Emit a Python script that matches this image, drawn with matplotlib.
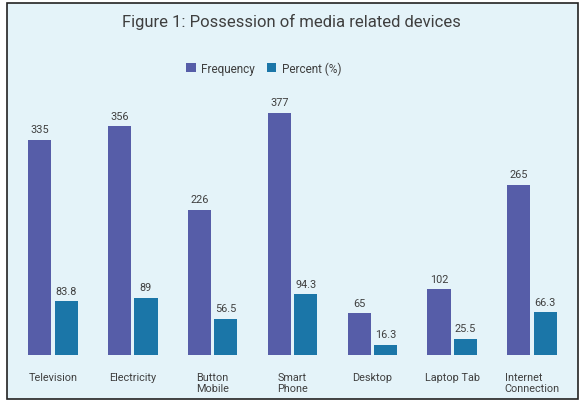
import matplotlib
matplotlib.use("Agg")
import matplotlib.pyplot as plt
import numpy as np
from matplotlib.patches import Rectangle

categories = ["Television", "Electricity", "Button\nMobile", "Smart\nPhone",
              "Desktop", "Laptop Tab", "Internet\nConnection"]
frequency = [335, 356, 226, 377, 65, 102, 265]
percent = [83.8, 89, 56.5, 94.3, 16.3, 25.5, 66.3]
freq_labels = ["335", "356", "226", "377", "65", "102", "265"]
pct_labels = ["83.8", "89", "56.5", "94.3", "16.3", "25.5", "66.3"]

colors = {
    "bg": "#e4f3f9",
    "freq": "#565da8",
    "pct": "#1b76a8",
    "text": "#3f3f3f",
}

plt.rcParams["font.family"] = ["Roboto", "DejaVu Sans"]

W, H = 583, 402
fig = plt.figure(figsize=(W / 100, H / 100), dpi=100)
fig.patch.set_facecolor("white")

# outer framed panel, kept behind the axes
fig.patches.append(Rectangle((7 / W, 1 - 400 / H), 571 / W, 396 / H,
                             transform=fig.transFigure, facecolor=colors["bg"],
                             edgecolor="#222222", linewidth=1.2, zorder=-5))

# axes placed in pixel coords: x 13..572, baseline at 356
ax = fig.add_axes([13 / W, 1 - 356 / H, 559 / W, 252 / H])
ax.set_facecolor("none")
ax.set_zorder(2)

x = np.arange(len(categories))
bw = 0.29
off = 0.165
b1 = ax.bar(x - off, frequency, bw, color=colors["freq"], label="Frequency")
b2 = ax.bar(x + off, percent, bw, color=colors["pct"], label="Percent (%)")

for bars, labs in ((b1, freq_labels), (b2, pct_labels)):
    for rect, lab in zip(bars, labs):
        ax.annotate(lab, (rect.get_x() + rect.get_width() / 2, rect.get_height()),
                    xytext=(0, 4), textcoords="offset points",
                    ha="center", va="bottom", fontsize=7.8, color=colors["text"])

ax.set_xlim(-0.5, len(categories) - 0.5)
ax.set_ylim(0, 392)
ax.set_xticks(x)
ax.set_xticklabels(categories, fontsize=7.8, color=colors["text"],
                   multialignment="left", va="top")
ax.tick_params(axis="x", length=0, pad=12)
ax.set_yticks([])
for s in ax.spines.values():
    s.set_visible(False)

fig.text(0.5, 1 - 22 / H, "Figure 1: Possession of media related devices",
         ha="center", va="center", fontsize=12, color=colors["text"])

fig.legend(handles=[b1, b2], loc="center", bbox_to_anchor=(264 / W, 1 - 69 / H),
           ncol=2, frameon=False, fontsize=8.5, handlelength=0.8, handleheight=0.8,
           handletextpad=0.5, columnspacing=1.0, labelcolor=colors["text"])

fig.savefig("out.png", dpi=100, facecolor=fig.get_facecolor())
